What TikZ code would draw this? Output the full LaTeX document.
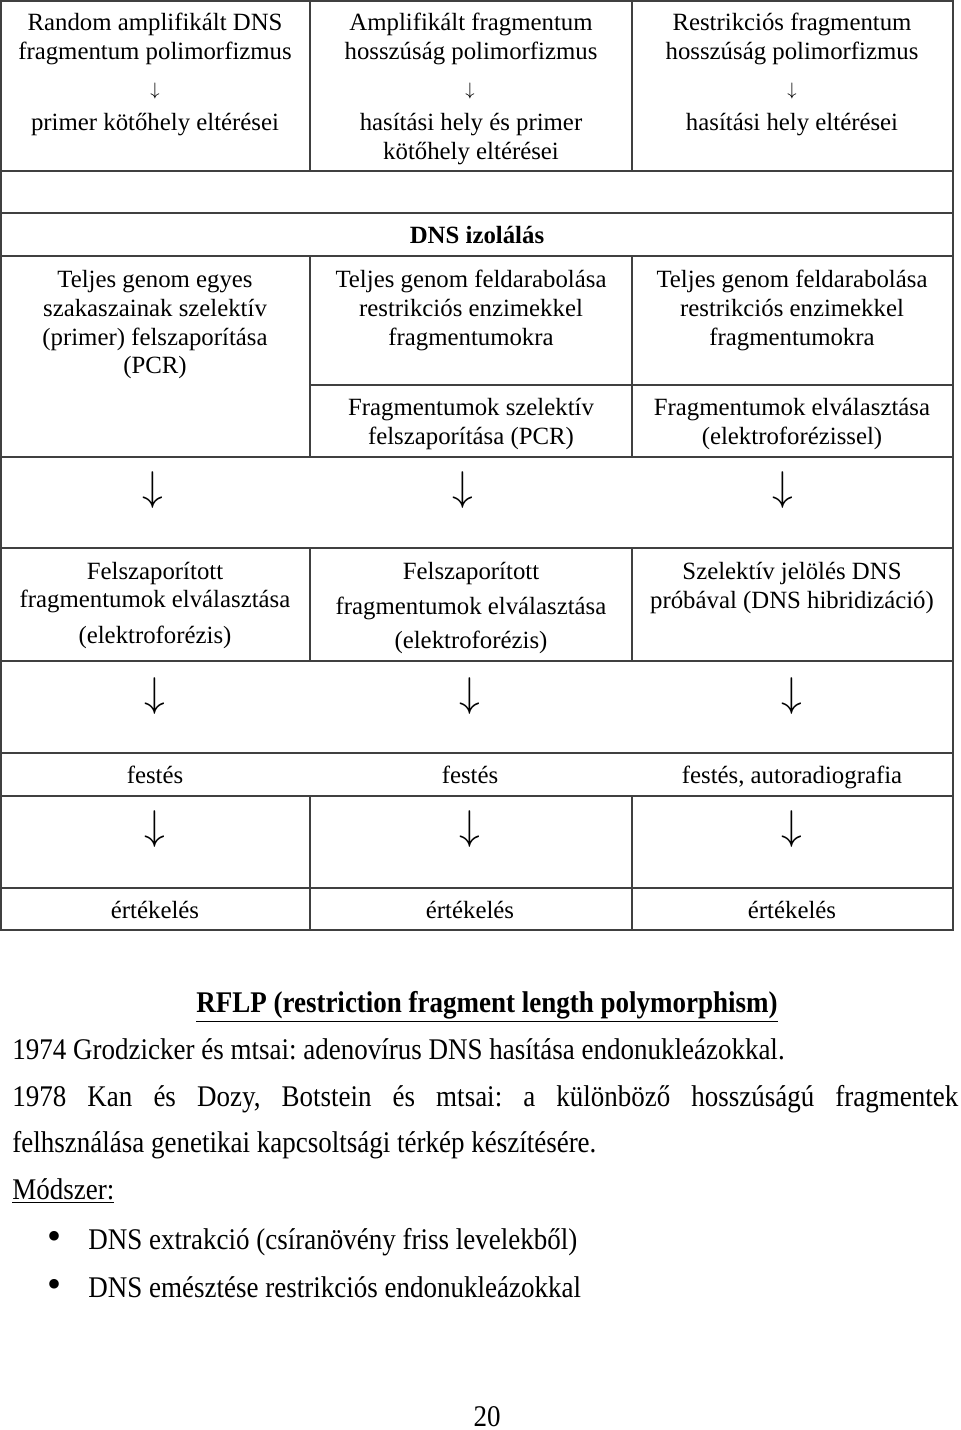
\documentclass[tikz,border=0pt]{standalone}
\usepackage{fontspec}
\setmainfont{Liberation Serif}
\newfontfamily\narrowfont[FakeStretch=0.9]{Liberation Serif}
\frenchspacing
\begin{document}
\begin{tikzpicture}[x=0.5pt,y=-0.5pt,
  rule/.style={line width=0.75pt, draw=black!75},
  cell/.style={anchor=base, inner sep=0pt, font=\fontsize{12.4}{14.5}\selectfont},
  harrow/.style={anchor=center, inner sep=0pt, font=\fontsize{9}{10}\selectfont},
  barrow/.style={anchor=center, inner sep=0pt, font=\fontsize{21}{22}\selectfont},
  body/.style={anchor=base west, inner sep=0pt, font=\narrowfont\fontsize{15}{18}\selectfont\frenchspacing},
]
\useasboundingbox (0,0) rectangle (960,1430);
% grid
\draw[rule] (1,1) rectangle (953,930);
\foreach \yy in {171,213,256,457,548,661,753,796,888} \draw[rule] (1,\yy) -- (953,\yy);
\draw[rule] (310,385) -- (953,385);
\foreach \xx in {310,632} {
  \draw[rule] (\xx,1) -- (\xx,171);
  \draw[rule] (\xx,256) -- (\xx,457);
  \draw[rule] (\xx,548) -- (\xx,661);
  \draw[rule] (\xx,796) -- (\xx,930);
}
% row 1
\node[cell] (a1) at (155,30) {Random amplifikált DNS};
\node[cell] (a2) at (155,59) {fragmentum polimorfizmus};
\node[harrow] (a3) at (155,91) {$\downarrow$};
\node[cell] (a4) at (155,130) {primer kötőhely eltérései};
\node[cell] (b1) at (471,30) {Amplifikált fragmentum};
\node[cell] (b2) at (471,59) {hosszúság polimorfizmus};
\node[harrow] (b3) at (470,91) {$\downarrow$};
\node[cell] (b4) at (471,130) {hasítási hely és primer};
\node[cell] (b5) at (471,159) {kötőhely eltérései};
\node[cell] (c1) at (792,30) {Restrikciós fragmentum};
\node[cell] (c2) at (792,59) {hosszúság polimorfizmus};
\node[harrow] (c3) at (792,91) {$\downarrow$};
\node[cell] (c4) at (792,130) {hasítási hely eltérései};
% row 3
\node[cell, font=\fontsize{12.4}{14.5}\selectfont\bfseries] (iso) at (477,243) {DNS izolálás};
% row 4/5
\node[cell] (d1) at (155,287) {Teljes genom egyes};
\node[cell] (d2) at (155,316) {szakaszainak szelektív};
\node[cell] (d3) at (155,345) {(primer) felszaporítása};
\node[cell] (d4) at (155,373) {(PCR)};
\node[cell] (e1) at (471,287) {Teljes genom feldarabolása};
\node[cell] (e2) at (471,316) {restrikciós enzimekkel};
\node[cell] (e3) at (471,345) {fragmentumokra};
\node[cell] (e4) at (471,415) {Fragmentumok szelektív};
\node[cell] (e5) at (471,444) {felszaporítása (PCR)};
\node[cell] (f1) at (792,287) {Teljes genom feldarabolása};
\node[cell] (f2) at (792,316) {restrikciós enzimekkel};
\node[cell] (f3) at (792,345) {fragmentumokra};
\node[cell] (f4) at (792,415) {Fragmentumok elválasztása};
\node[cell] (f5) at (792,444) {(elektroforézissel)};
% row 6 arrows
\node[barrow] (g1) at (153,490) {$\downarrow$};
\node[barrow] (g2) at (463,490) {$\downarrow$};
\node[barrow] (g3) at (783,490) {$\downarrow$};
% row 7
\node[cell] (h1) at (155,579) {Felszaporított};
\node[cell] (h2) at (155,607) {fragmentumok elválasztása};
\node[cell] (h3) at (155,643) {(elektroforézis)};
\node[cell] (i1) at (471,579) {Felszaporított};
\node[cell] (i2) at (471,614) {fragmentumok elválasztása};
\node[cell] (i3) at (471,648) {(elektroforézis)};
\node[cell] (j1) at (792,579) {Szelektív jelölés DNS};
\node[cell] (j2) at (792,608) {próbával (DNS hibridizáció)};
% row 8 arrows
\node[barrow] (k1) at (155,696) {$\downarrow$};
\node[barrow] (k2) at (470,696) {$\downarrow$};
\node[barrow] (k3) at (792,696) {$\downarrow$};
% row 9
\node[cell] (l1) at (155,783) {festés};
\node[cell] (l2) at (470,783) {festés};
\node[cell] (l3) at (792,783) {festés, autoradiografia};
% row 10 arrows
\node[barrow] (m1) at (155,829) {$\downarrow$};
\node[barrow] (m2) at (470,829) {$\downarrow$};
\node[barrow] (m3) at (792,829) {$\downarrow$};
% row 11
\node[cell] (n1) at (155,918) {értékelés};
\node[cell] (n2) at (470,918) {értékelés};
\node[cell] (n3) at (792,918) {értékelés};
% text below
\node[body, anchor=base, font=\narrowfont\fontsize{15}{18}\selectfont\bfseries] (rflp) at (487,1012) {\underline{RFLP (restriction fragment length polymorphism)}};
\node[body] (t1) at (12,1059) {1974 Grodzicker és mtsai: adenovírus DNS hasítása endonukleázokkal.};
\node[body] (t2) at (12,1106) {\makebox[473pt][s]{1978 Kan és Dozy, Botstein és mtsai: a különböző hosszúságú fragmentek}};
\node[body] (t3) at (12,1152) {felhsználása genetikai kapcsoltsági térkép készítésére.};
\node[body] (t4) at (12,1199) {\underline{Módszer:}};
\node[anchor=center, inner sep=0pt, font=\fontsize{20}{24}\selectfont] (bu1) at (55,1240) {•};
\node[body] (t5) at (88,1249) {DNS extrakció (csíranövény friss levelekből)};
\node[anchor=center, inner sep=0pt, font=\fontsize{20}{24}\selectfont] (bu2) at (55,1288) {•};
\node[body] (t6) at (88,1297) {DNS emésztése restrikciós endonukleázokkal};
\node[body, anchor=base] (pg) at (487,1426) {20};
\end{tikzpicture}
\end{document}
